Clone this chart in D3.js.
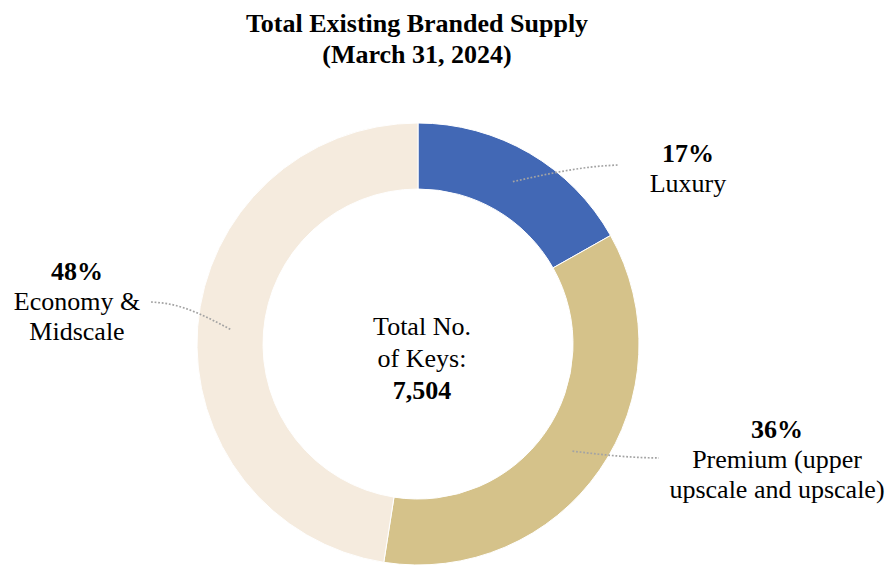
<!DOCTYPE html>
<html>
<head>
<meta charset="utf-8">
<script src="https://cdn.jsdelivr.net/npm/d3@7"></script>
<style>
  html, body { margin: 0; padding: 0; background: #ffffff; }
  svg { display: block; font-family: "Liberation Serif", "Times New Roman", serif; }
</style>
</head>
<body>
<svg id="chart" width="889" height="565"></svg>
<script>
// Segment data (share of existing branded supply, %)
const categories = ["Luxury", "Premium (upper upscale and upscale)", "Economy & Midscale"];
const shares = [17, 36, 48];
const labelLines = [["Luxury"], ["Premium (upper", "upscale and upscale)"], ["Economy &", "Midscale"]];
const colors = ["#4268b5", "#d5c28a", "#f5ebde"];
const titleLines = ["Total Existing Branded Supply", "(March 31, 2024)"];
const centerLines = ["Total No.", "of Keys:"];
const totalKeys = 7504;

const W = 889, H = 565;
const cx = 418, cy = 344;
const outerR = 221, innerR = 155;
const fontSize = 26;
const lineH = 30;

const svg = d3.select("#chart");

// Title
svg.append("g").selectAll("text")
  .data(titleLines)
  .join("text")
  .attr("x", 417)
  .attr("y", (d, i) => 32 + i * 31)
  .attr("text-anchor", "middle")
  .attr("font-size", fontSize)
  .attr("font-weight", "bold")
  .attr("fill", "#000")
  .text(d => d);

const data = categories.map((c, i) => ({ name: c, value: shares[i], color: colors[i], lines: labelLines[i] }));

const pie = d3.pie().value(d => d.value).sort(null);
const arcs = pie(data);
const arc = d3.arc().innerRadius(innerR).outerRadius(outerR);

const g = svg.append("g").attr("transform", `translate(${cx},${cy})`);

g.selectAll("path.slice")
  .data(arcs)
  .join("path")
  .attr("class", "slice")
  .attr("d", arc)
  .attr("fill", d => d.data.color)
  .attr("stroke", "#ffffff")
  .attr("stroke-width", 1);

// Label anchor positions (relative to the donut centre) and leader end points
const labelPos = [
  { x: 270, y: -182, anchor: "middle", lineEnd: [200, -179] },
  { x: 359, y: 94, anchor: "middle", lineEnd: [241, 114] },
  { x: -341, y: -64, anchor: "middle", lineEnd: [-267, -42] }
];

// Dotted leader lines from the ring centre to the labels
const leader = d3.line().curve(d3.curveMonotoneX);
g.selectAll("path.leader")
  .data(arcs)
  .join("path")
  .attr("class", "leader")
  .attr("d", (d, i) => {
    const c = arc.centroid(d);
    const e = labelPos[i].lineEnd;
    const dir = e[0] > c[0] ? -1 : 1;
    const elbow = [e[0] + dir * 16, e[1] + (c[1] - e[1]) * 0.06];
    const pts = dir < 0 ? [c, elbow, e] : [e, elbow, c];
    return leader(pts);
  })
  .attr("fill", "none")
  .attr("stroke", "#a3a3a3")
  .attr("stroke-width", 1.7)
  .attr("stroke-dasharray", "1.8,1.8");

// Percentage and category labels
arcs.forEach((d, i) => {
  const p = labelPos[i];
  const t = g.append("text")
    .attr("text-anchor", p.anchor)
    .attr("font-size", fontSize)
    .attr("fill", "#000");
  t.append("tspan")
    .attr("x", p.x).attr("y", p.y)
    .attr("font-weight", "bold")
    .text(d.data.value + "%");
  d.data.lines.forEach((ln, j) => {
    t.append("tspan")
      .attr("x", p.x).attr("y", p.y + lineH * (j + 1))
      .text(ln);
  });
});

// Centre text
const ct = g.append("text")
  .attr("text-anchor", "middle")
  .attr("font-size", fontSize)
  .attr("fill", "#000");
centerLines.forEach((ln, j) => {
  ct.append("tspan").attr("x", 4).attr("y", -9 + j * 32).text(ln);
});
ct.append("tspan").attr("x", 4).attr("y", -9 + 2 * 32)
  .attr("font-weight", "bold")
  .text(d3.format(",")(totalKeys));
</script>
</body>
</html>
